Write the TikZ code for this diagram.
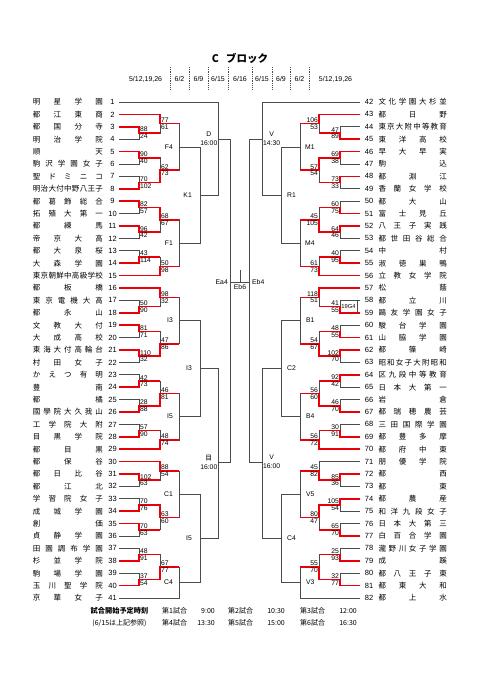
\documentclass[tikz,border=0pt]{standalone}
\usepackage{fontspec}
\setmainfont{Liberation Sans}
\newfontfamily\jp{Noto Sans CJK JP}
\usepackage{tikz}
\usetikzlibrary{calc}
\usepackage{xcolor}

\definecolor{winred}{RGB}{235,0,10}
\definecolor{linegray}{RGB}{75,75,75}
\pgfdeclarelayer{front}
\pgfsetlayers{main,front}

\newcommand\spreadname[2]{\makebox[#1][s]{\expandafter\spreadfirst#2\relax}}
\def\spreadfirst#1{#1\spreadnext}
\def\spreadnext#1{\ifx\relax#1\else\hfill#1\expandafter\spreadnext\fi}

\newcommand\joint[4]{\path let \p1=(#3), \p2=(#4) in (#2,{0.5*(\y1+\y2)}) coordinate (#1);
  \draw[bline] (#3) -| (#1); \draw[bline] (#4) -| (#1);}
\newcommand\boutL[6]{\joint{#1}{#2}{#3}{#4}
  \begin{pgfonlayer}{front}
  \node[score, anchor=south west] (#1u) at (#1) {#5};
  \node[score, anchor=north west] (#1d) at (#1) {#6};
  \end{pgfonlayer}}
\newcommand\boutR[6]{\joint{#1}{#2}{#3}{#4}
  \begin{pgfonlayer}{front}
  \node[score, anchor=south east] (#1u) at (#1) {#5};
  \node[score, anchor=north east] (#1d) at (#1) {#6};
  \end{pgfonlayer}}
\newcommand\pendL[6]{\joint{#1}{#2}{#3}{#4}
  \node[tag, anchor=east] (#1l) at ([xshift=#6]#1) {#5};}
\newcommand\pendR[6]{\joint{#1}{#2}{#3}{#4}
  \node[tag, anchor=west] (#1l) at ([xshift=#6]#1) {#5};}
\newcommand\won[3]{\draw[win] (#1) -| (#2) -- (#2 -| #3);}

\begin{document}
\begin{tikzpicture}[x=1pt, y=-1pt,
    bline/.style={draw=linegray, line width=0.75pt},
    win/.style={draw=winred, line width=1.5pt},
    sepl/.style={draw=linegray, line width=0.5pt, dash pattern=on 1pt off 0.8pt},
    team/.style={font=\jp\fontsize{7.5}{8}\selectfont, inner sep=0pt, anchor=west},
    num/.style={font=\fontsize{7.5}{8}\selectfont, inner sep=0pt},
    score/.style={font=\fontsize{6.8}{7}\selectfont, inner sep=0.8pt},
    tag/.style={font=\fontsize{6.8}{7}\selectfont, inner sep=0pt},
    tag2/.style={font=\fontsize{6.8}{9}\selectfont, inner sep=0pt, align=center},
    date/.style={font=\fontsize{7}{8}\selectfont, inner sep=0pt},
    foot/.style={font=\jp\fontsize{7}{8}\selectfont, inner sep=0pt}]
\fill[white] (0,0) rectangle (481,680);
\useasboundingbox (0,0) rectangle (481,680);

\node[font=\jp\bfseries\fontsize{10.5}{12}\selectfont, inner sep=0pt] (title) at (240,58) {C\hspace{0.7em}ブロック};
\foreach \x in {170,189,208,228,252,272,290,309}
  \draw[sepl] (\x,67) -- (\x,90);
\node[date] (dl) at (145.6,79) {5/12,19,26};
\node[date] (d1) at (179.5,79) {6/2};
\node[date] (d2) at (198.5,79) {6/9};
\node[date] (d3) at (218,79) {6/15};
\node[date] (d4) at (240,79) {6/16};
\node[date] (d5) at (262,79) {6/15};
\node[date] (d6) at (281,79) {6/9};
\node[date] (d7) at (299.5,79) {6/2};
\node[date] (dr) at (335.5,79) {5/12,19,26};

\foreach \i/\s in {1/明星学園,2/都江東商,3/都国分寺,4/明治学院,5/順天,6/駒沢学園女子,7/聖ドミニコ,8/明治大付中野八王子,9/都葛飾総合,10/拓殖大第一,11/都練馬,12/帝京大高,13/都大泉桜,14/大森学園,15/東京朝鮮中高級学校,16/都板橋,17/東京電機大高,18/都永山,19/文教大付,20/大成高校,21/東海大付高輪台,22/村田女子,23/かえつ有明,24/豊南,25/都橘,26/國學院大久我山,27/工学院大附,28/目黒学院,29/都目黒,30/都保谷,31/都日比谷,32/都江北,33/学習院女子,34/成城学園,35/創価,36/貞静学園,37/田園調布学園,38/杉並学院,39/駒場学園,40/玉川聖学院,41/京華女子}{
  \coordinate (t\i) at (119,{102+(\i-1)*12.4});
  \node[num] (k\i) at (112.5,{102+(\i-1)*12.4}) {\i};
  \node[team] (s\i) at (32.7,{102+(\i-1)*12.4}) {\spreadname{70pt}{\s}};
}
\foreach \i/\s in {42/文化学園大杉並,43/都日野,44/東京大附中等教育,45/東洋高校,46/早大早実,47/駒込,48/都淵江,49/香蘭女学校,50/都大山,51/富士見丘,52/八王子実践,53/都世田谷総合,54/中村,55/淑徳巣鴨,56/立教女学院,57/松蔭,58/都立川,59/鷗友学園女子,60/駿台学園,61/山脇学園,62/都篠崎,63/昭和女子大附昭和,64/区九段中等教育,65/日本大第一,66/岩倉,67/都瑞穂農芸,68/三田国際学園,69/都豊多摩,70/都府中東,71/朋優学院,72/都西,73/都東,74/都農産,75/和洋九段女子,76/日本大第三,77/白百合学園,78/瀧野川女子学園,79/成蹊,80/都八王子東,81/都東大和,82/都上水}{
  \coordinate (t\i) at (360,{102+(\i-42)*12.4});
  \node[num] (k\i) at (369,{102+(\i-42)*12.4}) {\i};
  \node[team] (s\i) at (378.3,{102+(\i-42)*12.4}) {\spreadname{68.4pt}{\s}};
}

\boutL{a34}{139}{t3}{t4}{88}{24}
\boutL{a234}{160}{t2}{a34}{77}{61}
\boutL{a56}{139}{t5}{t6}{90}{40}
\boutL{a78}{139}{t7}{t8}{70}{102}
\boutL{a58}{160}{a56}{a78}{62}{73}
\pendL{F4}{179}{a234}{a58}{F4}{-6}
\boutL{a910}{139}{t9}{t10}{82}{57}
\boutL{a1112}{139}{t11}{t12}{96}{42}
\boutL{a912}{160}{a910}{a1112}{68}{67}
\boutL{a1314}{139}{t13}{t14}{43}{114}
\boutL{a1315}{160}{a1314}{t15}{50}{98}
\pendL{F1}{179}{a912}{a1315}{F1}{-6}
\pendL{K1}{200}{F4}{F1}{K1}{-8}
\coordinate (D) at (218,139);
\draw[bline] (t1) -| (D);
\draw[bline] (K1) -| (D);
\node[tag2, anchor=east] (Dl) at (217.5,139) {D\\16:00};

\boutL{a1718}{139}{t17}{t18}{50}{90}
\boutL{a1618}{160}{t16}{a1718}{98}{32}
\boutL{a1920}{139}{t19}{t20}{81}{71}
\boutL{a2122}{139}{t21}{t22}{110}{32}
\boutL{a1922}{160}{a1920}{a2122}{47}{86}
\pendL{I3a}{179}{a1618}{a1922}{I3}{-6}
\boutL{a2324}{139}{t23}{t24}{42}{73}
\boutL{a2526}{139}{t25}{t26}{28}{88}
\boutL{a2326}{160}{a2324}{a2526}{46}{81}
\boutL{a2728}{139}{t27}{t28}{57}{90}
\boutL{a2729}{160}{a2728}{t29}{48}{74}
\pendL{I5a}{179}{a2326}{a2729}{I5}{-6}
\pendL{I3b}{200}{I3a}{I5a}{I3}{-8}
\boutL{a3132}{139}{t31}{t32}{102}{63}
\boutL{a3032}{160}{t30}{a3132}{88}{54}
\boutL{a3334}{139}{t33}{t34}{70}{76}
\boutL{a3536}{139}{t35}{t36}{70}{63}
\boutL{a3336}{160}{a3334}{a3536}{63}{60}
\pendL{C1}{179}{a3032}{a3336}{C1}{-6}
\boutL{a3738}{139}{t37}{t38}{48}{91}
\boutL{a3940}{139}{t39}{t40}{37}{54}
\boutL{a3740}{160}{a3738}{a3940}{67}{77}
\pendL{C4a}{179}{a3740}{t41}{C4}{-6}
\pendL{I5b}{200}{C1}{C4a}{I5}{-8}
\coordinate (Me) at (218,462);
\draw[bline] (I3b) -| (Me);
\draw[bline] (I5b) -| (Me);
\node[tag2, anchor=east] (Mel) at (217.5,462) {{\jp 目}\\16:00};

\coordinate (Ea4) at (230,282);
\draw[bline] (D) -| (Ea4);
\draw[bline] (Me) -| (Ea4);
\node[tag, anchor=east] (Ea4l) at (228,282) {Ea4};

\node[draw=linegray, line width=0.6pt, minimum width=17, minimum height=12.4, inner sep=0pt, font=\fontsize{5.8}{6}\selectfont] (g4) at (348.5,306.6) {19G4};

\boutR{b4445}{340}{t44}{t45}{47}{89}
\boutR{b4345}{319}{t43}{b4445}{106}{53}
\boutR{b4647}{340}{t46}{t47}{69}{38}
\boutR{b4849}{340}{t48}{t49}{73}{33}
\boutR{b4649}{319}{b4647}{b4849}{57}{54}
\pendR{M1}{300}{b4345}{b4649}{M1}{5}
\boutR{b5051}{340}{t50}{t51}{60}{75}
\boutR{b5253}{340}{t52}{t53}{64}{46}
\boutR{b5053}{319}{b5051}{b5253}{45}{105}
\boutR{b5455}{340}{t54}{t55}{40}{95}
\boutR{b5456}{319}{b5455}{t56}{61}{73}
\pendR{M4}{300}{b5053}{b5456}{M4}{5}
\pendR{R1}{281}{M1}{M4}{R1}{6}
\coordinate (V1) at (262,139);
\draw[bline] (t42) -| (V1);
\draw[bline] (R1) -| (V1);
\node[tag2, anchor=west] (V1l) at (263,139) {V\\14:30};

\boutR{b5859}{340}{t58}{t59}{41}{55}
\boutR{b5759}{319}{t57}{b5859}{118}{51}
\boutR{b6061}{340}{t60}{t61}{48}{55}
\boutR{b6263}{340}{t62}{t63}{102}{70}
\boutR{b6063}{319}{b6061}{b6263}{54}{67}
\pendR{B1}{300}{b5759}{b6063}{B1}{6}
\boutR{b6465}{340}{t64}{t65}{92}{42}
\boutR{b6667}{340}{t66}{t67}{46}{70}
\boutR{b6467}{319}{b6465}{b6667}{56}{60}
\boutR{b6869}{340}{t68}{t69}{30}{91}
\boutR{b6870}{319}{b6869}{t70}{56}{72}
\pendR{B4}{300}{b6467}{b6870}{B4}{6}
\pendR{C2}{281}{B1}{B4}{C2}{6}
\boutR{b7273}{340}{t72}{t73}{85}{36}
\boutR{b7173}{319}{t71}{b7273}{45}{82}
\boutR{b7475}{340}{t74}{t75}{105}{54}
\boutR{b7677}{340}{t76}{t77}{65}{70}
\boutR{b7477}{319}{b7475}{b7677}{80}{47}
\pendR{V5}{300}{b7173}{b7477}{V5}{6}
\boutR{b7879}{340}{t78}{t79}{25}{93}
\boutR{b8081}{340}{t80}{t81}{32}{77}
\boutR{b7881}{319}{b7879}{b8081}{55}{70}
\pendR{V3}{300}{b7881}{t82}{V3}{6}
\pendR{C4b}{281}{V5}{V3}{C4}{6}
\coordinate (V2) at (262,462);
\draw[bline] (C2) -| (V2);
\draw[bline] (C4b) -| (V2);
\node[tag2, anchor=west] (V2l) at (263,462) {V\\16:00};

\coordinate (Eb4) at (249,282);
\draw[bline] (V1) -| (Eb4);
\draw[bline] (V2) -| (Eb4);
\node[tag, anchor=west] (Eb4l) at (252,282) {Eb4};

\coordinate (champ) at (240,270);
\draw[bline] (Ea4) -- (Eb4);
\draw[bline] (champ) -- (champ |- Ea4);
\node[tag, anchor=north] (Eb6) at (240,284.5) {Eb6};

\won{t3}{a34}{a234}
\won{t2}{a234}{F4}
\won{t5}{a56}{a58}
\won{t8}{a78}{a58}
\won{a78}{a58}{F4}
\won{t9}{a910}{a912}
\won{t11}{a1112}{a912}
\won{a910}{a912}{F1}
\won{t14}{a1314}{a1315}
\won{t15}{a1315}{F1}
\won{t18}{a1718}{a1618}
\won{t16}{a1618}{I3a}
\won{t19}{a1920}{a1922}
\won{t21}{a2122}{a1922}
\won{a2122}{a1922}{I3a}
\won{t24}{a2324}{a2326}
\won{t26}{a2526}{a2326}
\won{a2526}{a2326}{I5a}
\won{t28}{a2728}{a2729}
\won{t29}{a2729}{I5a}
\won{t31}{a3132}{a3032}
\won{t30}{a3032}{C1}
\won{t34}{a3334}{a3336}
\won{t35}{a3536}{a3336}
\won{a3334}{a3336}{C1}
\won{t38}{a3738}{a3740}
\won{t40}{a3940}{a3740}
\won{a3940}{a3740}{C4a}

\won{t45}{b4445}{b4345}
\won{t43}{b4345}{M1}
\won{t46}{b4647}{b4649}
\won{t48}{b4849}{b4649}
\won{b4647}{b4649}{M1}
\won{t51}{b5051}{b5053}
\won{t52}{b5253}{b5053}
\won{b5253}{b5053}{M4}
\won{t55}{b5455}{b5456}
\won{t56}{b5456}{M4}
\won{t59}{b5859}{b5759}
\won{t57}{b5759}{B1}
\won{t61}{b6061}{b6063}
\won{t62}{b6263}{b6063}
\won{b6263}{b6063}{B1}
\won{t64}{b6465}{b6467}
\won{t67}{b6667}{b6467}
\won{b6667}{b6467}{B4}
\won{t69}{b6869}{b6870}
\won{t70}{b6870}{B4}
\won{t72}{b7273}{b7173}
\won{b7273}{b7173}{V5}
\won{t74}{b7475}{b7477}
\won{t77}{b7677}{b7477}
\won{b7475}{b7477}{V5}
\won{t79}{b7879}{b7881}
\won{t81}{b8081}{b7881}
\won{b8081}{b7881}{V3}

\node[foot, font=\jp\bfseries\fontsize{7.2}{8}\selectfont] (ft1) at (119.5,611) {試合開始予定時刻};
\node[foot] (ft2) at (119.5,623) {(6/15は上記参照)};
\node[foot, anchor=west] (g1) at (162,611) {第1試合};
\node[foot, anchor=east] (h1) at (215,611) {9:00};
\node[foot, anchor=west] (g2) at (228,611) {第2試合};
\node[foot, anchor=east] (h2) at (285,611) {10:30};
\node[foot, anchor=west] (g3) at (300,611) {第3試合};
\node[foot, anchor=east] (h3) at (357,611) {12:00};
\node[foot, anchor=west] (g4b) at (162,623) {第4試合};
\node[foot, anchor=east] (h4) at (215,623) {13:30};
\node[foot, anchor=west] (g5) at (228,623) {第5試合};
\node[foot, anchor=east] (h5) at (285,623) {15:00};
\node[foot, anchor=west] (g6) at (300,623) {第6試合};
\node[foot, anchor=east] (h6) at (357,623) {16:30};
\end{tikzpicture}
\end{document}
